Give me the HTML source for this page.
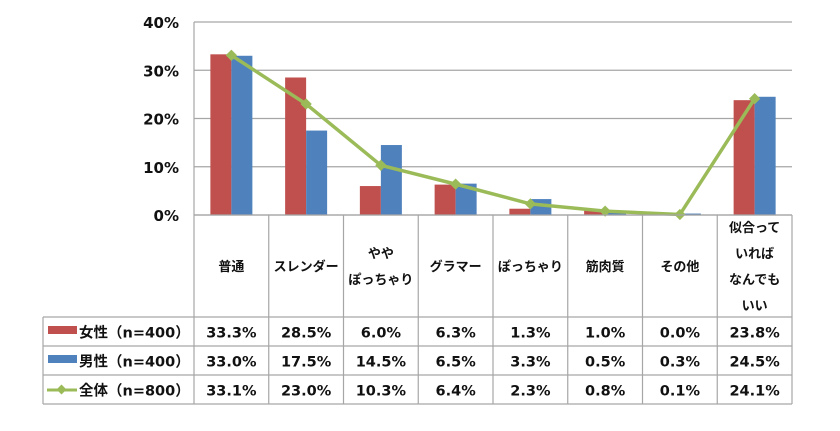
<!DOCTYPE html>
<html><head><meta charset="utf-8"><style>
body{margin:0;background:#fff;width:840px;height:426px;overflow:hidden}
text{font-family:"DejaVu Sans","Noto Sans CJK JP",sans-serif;font-weight:bold;fill:#111}
</style></head><body>
<svg id="c" width="840" height="426"></svg>
<script>
const categories=[["普通"],["スレンダー"],["やや","ぽっちゃり"],["グラマー"],["ぽっちゃり"],["筋肉質"],["その他"],["似合って","いれば","なんでも","いい"]];
const femaleValues=[33.3,28.5,6.0,6.3,1.3,1.0,0.0,23.8];
const maleValues=[33.0,17.5,14.5,6.5,3.3,0.5,0.3,24.5];
const totalValues=[33.1,23.0,10.3,6.4,2.3,0.8,0.1,24.1];
const yTicks=[0,10,20,30,40];
const seriesNames=["女性（n=400）","男性（n=400）","全体（n=800）"];
const NS="http://www.w3.org/2000/svg",svg=document.getElementById('c');
const X0=194,CW=74.75,Y0=215,YT=22,YMAX=40;
const y=v=>Y0-(v/YMAX)*(Y0-YT);
const xc=i=>X0+CW*(i+0.5);
function mk(t,a,p){const e=document.createElementNS(NS,t);for(const k in a)e.setAttribute(k,a[k]);(p||svg).appendChild(e);return e;}
const G="#a6a6a6";
yTicks.forEach(t=>{
 const l=mk('line',{x1:X0,x2:X0+8*CW,y1:y(t),y2:y(t),stroke:G,'stroke-width':1.2});
 
 
 const tx=mk('text',{x:179,y:y(t)+6,'text-anchor':'end','font-size':15});tx.textContent=t+'%';
 
 
});
mk('line',{x1:X0,x2:X0,y1:YT,y2:Y0,stroke:G,'stroke-width':1.2});
const BW=21;
categories.forEach((c,i)=>{
 const r=mk('rect',{x:xc(i)-BW,y:y(femaleValues[i]),width:BW,height:Y0-y(femaleValues[i]),fill:'#c0504d'});
 
 
 const b=mk('rect',{x:xc(i),y:y(maleValues[i]),width:BW,height:Y0-y(maleValues[i]),fill:'#4f81bd'});
 
 
});
const pl=mk('polyline',{points:totalValues.map((v,i)=>xc(i)+','+y(v)).join(' '),fill:'none',stroke:'#9bbb59','stroke-width':3.5});


totalValues.forEach((v,i)=>{
 const m=mk('rect',{x:xc(i)-4,y:y(v)-4,width:8,height:8,fill:'#9bbb59',transform:`rotate(45 ${xc(i)} ${y(v)})`});
 
 
});
const rows=[317,346,375,404],LX=43,XR=X0+8*CW;
mk('line',{x1:X0,x2:XR,y1:Y0,y2:Y0,stroke:G,'stroke-width':1.2});
rows.forEach(r=>mk('line',{x1:LX,x2:XR,y1:r,y2:r,stroke:G,'stroke-width':1.2}));
mk('line',{x1:LX,x2:LX,y1:317,y2:404,stroke:G,'stroke-width':1.2});
for(let i=0;i<=8;i++)mk('line',{x1:X0+i*CW,x2:X0+i*CW,y1:Y0,y2:404,stroke:G,'stroke-width':1.2});
categories.forEach((c,i)=>{
 const n=c.length,lh=26,top=266-(n-1)*lh/2;
 c.forEach((s,j)=>{const t=mk('text',{x:xc(i),y:top+j*lh+5,'text-anchor':'middle','font-size':13});t.textContent=s;
 
 });
});
const allVals=[femaleValues,maleValues,totalValues];
allVals.forEach((arr,r)=>{
 const cy=(rows[r]+rows[r+1])/2+6;
 arr.forEach((v,i)=>{const t=mk('text',{x:xc(i),y:cy,'text-anchor':'middle','font-size':14.5});t.textContent=v.toFixed(1)+'%';
 
 });
 const t=mk('text',{x:79,y:cy,'font-size':14.5});t.textContent=seriesNames[r];
 
 
});
const k1=mk('rect',{x:48,y:326,width:29,height:8,fill:'#c0504d'});


const k2=mk('rect',{x:48,y:355,width:29,height:8,fill:'#4f81bd'});


mk('line',{x1:47,x2:77,y1:390,y2:390,stroke:'#9bbb59','stroke-width':3});
const k3=mk('rect',{x:58,y:386,width:7,height:7,fill:'#9bbb59',transform:'rotate(45 61.5 389.5)'});


</script>
</body></html>
